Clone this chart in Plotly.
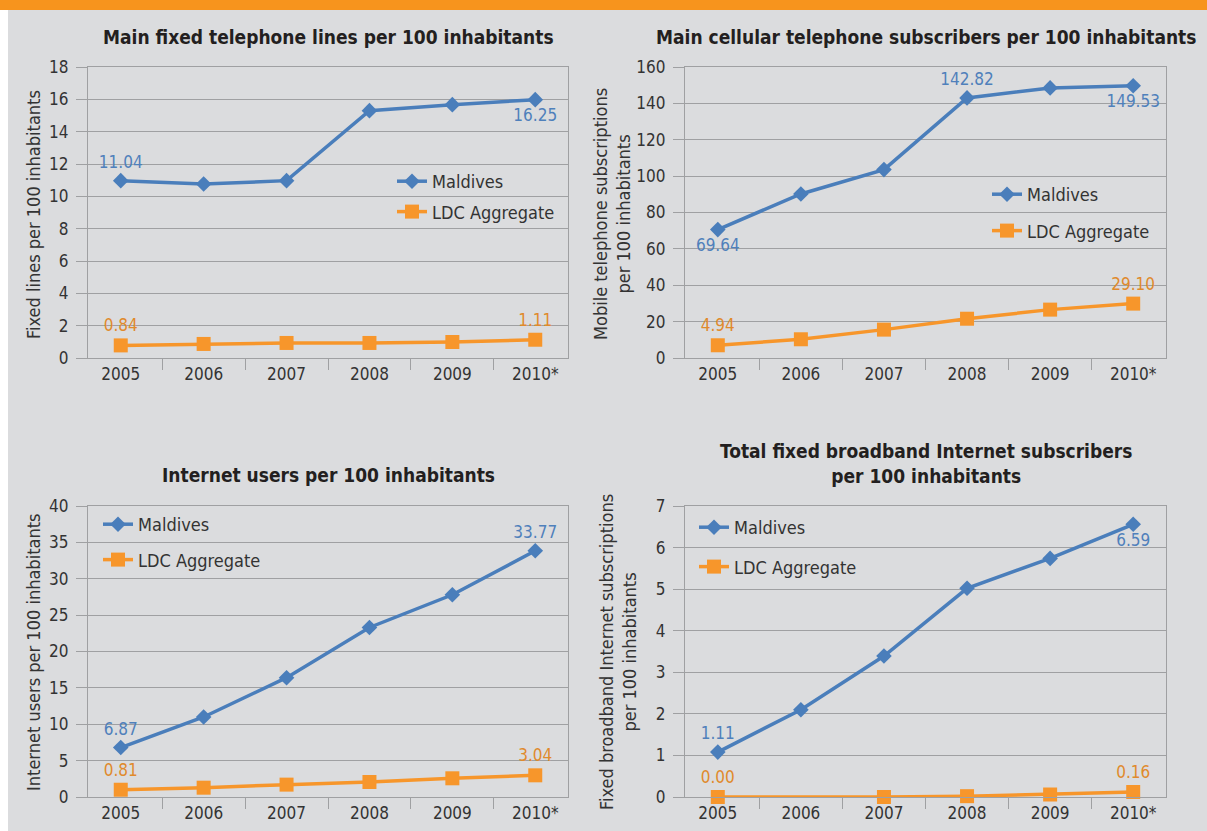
import plotly.graph_objects as go

W, H = 1207, 831

years = ["2005", "2006", "2007", "2008", "2009", "2010*"]

fixed_maldives = [10.97, 10.76, 10.97, 15.30, 15.67, 15.98]
fixed_ldc = [0.78, 0.87, 0.93, 0.93, 0.99, 1.13]
fixed_maldives_labels = ["11.04", "", "", "", "", "16.25"]
fixed_ldc_labels = ["0.84", "", "", "", "", "1.11"]

mobile_maldives = [70.6, 90.2, 103.6, 143.0, 148.5, 149.7]
mobile_ldc = [7.0, 10.3, 15.6, 21.6, 26.6, 29.9]
mobile_maldives_labels = ["69.64", "", "", "142.82", "", "149.53"]
mobile_ldc_labels = ["4.94", "", "", "", "", "29.10"]

internet_maldives = [6.80, 11.0, 16.4, 23.3, 27.8, 33.85]
internet_ldc = [1.00, 1.28, 1.70, 2.06, 2.57, 2.98]
internet_maldives_labels = ["6.87", "", "", "", "", "33.77"]
internet_ldc_labels = ["0.81", "", "", "", "", "3.04"]

bb_maldives = [1.08, 2.10, 3.39, 5.02, 5.74, 6.56]
bb_ldc = [0.00, -0.01, 0.00, 0.02, 0.06, 0.12]
bb_maldives_labels = ["1.11", "", "", "", "", "6.59"]
bb_ldc_labels = ["0.00", "", "", "", "", "0.16"]

titles = [
    "Main fixed telephone lines per 100 inhabitants",
    "Main cellular telephone subscribers per 100 inhabitants",
    "Internet users per 100 inhabitants",
    "Total fixed broadband Internet subscribers<br>per 100 inhabitants",
]
ytitles = [
    "Fixed lines per 100 inhabitants",
    "Mobile telephone subscriptions<br>per 100 inhabitants",
    "Internet users per 100 inhabitants",
    "Fixed broadband Internet subscriptions<br>per 100 inhabitants",
]
series_names = ["Maldives", "LDC Aggregate"]
yranges = [(0, 18, 2), (0, 160, 20), (0, 40, 5), (0, 7, 1)]

FONT = "DejaVu Sans Condensed, Liberation Sans Narrow, sans-serif"
BLUE = "#4a7ebb"
ORANGE = "#f7962b"
BLUE_TXT = "#4f80bb"
ORANGE_TXT = "#e08a2c"
BG = "#dbdcde"
GRID = "#9fa0a2"
TXT = "#333333"

def px_x(p):
    return p / W

def px_y(p):
    return 1 - p / H

# plot areas in pixels (left, right, top, bottom)
areas = [(88, 568, 67, 358), (685, 1166, 67, 358), (88, 568, 506, 797), (685, 1166, 506, 797)]

data = [
    (fixed_maldives, fixed_ldc, fixed_maldives_labels, fixed_ldc_labels,
     ["top center", "", "", "", "", "bottom center"]),
    (mobile_maldives, mobile_ldc, mobile_maldives_labels, mobile_ldc_labels,
     ["bottom center", "", "", "top center", "", "bottom center"]),
    (internet_maldives, internet_ldc, internet_maldives_labels, internet_ldc_labels,
     ["top center"] * 6),
    (bb_maldives, bb_ldc, bb_maldives_labels, bb_ldc_labels,
     ["top center", "", "", "", "", "bottom center"]),
]

legend_pos = [(392, 163), (987, 176), (98, 506), (694, 509)]
legend_gap = [4, 10, 9, 13]
title_pos = [(328, 37), (926, 37), (328, 475), (926, 463)]
ytitle_pos = [(33, 215), (612, 214), (33, 653), (618, 652)]

fig = go.Figure()
layout = dict(
    width=W, height=H, autosize=False,
    margin=dict(l=0, r=0, t=0, b=0, pad=0, autoexpand=False),
    paper_bgcolor="white", plot_bgcolor="rgba(0,0,0,0)",
    font=dict(family=FONT, size=17, color=TXT),
    showlegend=True,
    shapes=[
        dict(type="rect", xref="paper", yref="paper", x0=px_x(8), x1=1, y0=0, y1=px_y(10),
             fillcolor=BG, line=dict(width=0), layer="below"),
        dict(type="rect", xref="paper", yref="paper", x0=0, x1=1, y0=px_y(10), y1=1,
             fillcolor="#f7941d", line=dict(width=0), layer="below"),
    ],
    annotations=[],
)

for i in range(4):
    s = "" if i == 0 else str(i + 1)
    xa, ya = "x" + s, "y" + s
    leg = "legend" + s
    mv, lv, ml, ll, mpos = data[i]
    l, r, t, b = areas[i]
    fig.add_trace(go.Scatter(
        x=years, y=mv, name=series_names[0], xaxis=xa, yaxis=ya, legend=leg,
        legendgroup="m" + s,
        mode="lines+markers+text", text=ml,
        textposition=[p if p else "top center" for p in mpos],
        textfont=dict(color=BLUE_TXT, size=17, family=FONT),
        line=dict(color=BLUE, width=3.5),
        marker=dict(symbol="diamond", size=12, color=BLUE),
        cliponaxis=False,
    ))
    fig.add_trace(go.Scatter(
        x=years, y=lv, name=series_names[1], xaxis=xa, yaxis=ya, legend=leg,
        legendgroup="l" + s,
        mode="lines+markers+text", text=ll, textposition="top center",
        textfont=dict(color=ORANGE_TXT, size=17, family=FONT),
        line=dict(color=ORANGE, width=3.5),
        marker=dict(symbol="square", size=14, color=ORANGE),
        cliponaxis=False,
    ))
    y0, y1, dt = yranges[i]
    layout["xaxis" + s] = dict(
        domain=[px_x(l), px_x(r)], anchor=ya, type="category",
        tickson="boundaries", ticks="outside", ticklen=11, tickcolor=GRID, tickwidth=1.3,
        showline=True, linecolor=GRID, linewidth=1.3, mirror=True,
        showgrid=False, tickfont=dict(size=17, color=TXT), fixedrange=True,
        automargin=False,
    )
    layout["yaxis" + s] = dict(
        domain=[px_y(b), px_y(t)], anchor=xa, range=[y0, y1], dtick=dt, tick0=0,
        ticks="outside", ticklen=11, tickcolor=GRID, tickwidth=1.3,
        showline=True, linecolor=GRID, linewidth=1.3, mirror=True,
        showgrid=True, gridcolor=GRID, gridwidth=1.3, zeroline=False,
        tickfont=dict(size=17, color=TXT), ticklabelstandoff=4, fixedrange=True,
        automargin=False,
    )
    lx, ly = legend_pos[i]
    layout[leg] = dict(
        x=px_x(lx), y=px_y(ly), xanchor="left", yanchor="top",
        bgcolor="rgba(0,0,0,0)", font=dict(size=18, color=TXT, family=FONT),
        traceorder="grouped", tracegroupgap=legend_gap[i], itemwidth=30,
    )
    tx, ty = title_pos[i]
    layout["annotations"].append(dict(
        text="<b>" + titles[i].replace("<br>", "</b><br><b>") + "</b>",
        xref="paper", yref="paper", x=px_x(tx), y=px_y(ty),
        xanchor="center", yanchor="middle", showarrow=False,
        font=dict(size=19, color="#231f20", family=FONT),
    ))
    yx, yy = ytitle_pos[i]
    layout["annotations"].append(dict(
        text=ytitles[i], xref="paper", yref="paper", x=px_x(yx), y=px_y(yy),
        xanchor="center", yanchor="middle", showarrow=False, textangle=-90,
        font=dict(size=18, color=TXT, family=FONT),
    ))

fig.update_layout(**layout)
fig.write_html(
    "out.html",
    post_script="document.body.style.margin='0';document.body.style.overflow='hidden';",
)
